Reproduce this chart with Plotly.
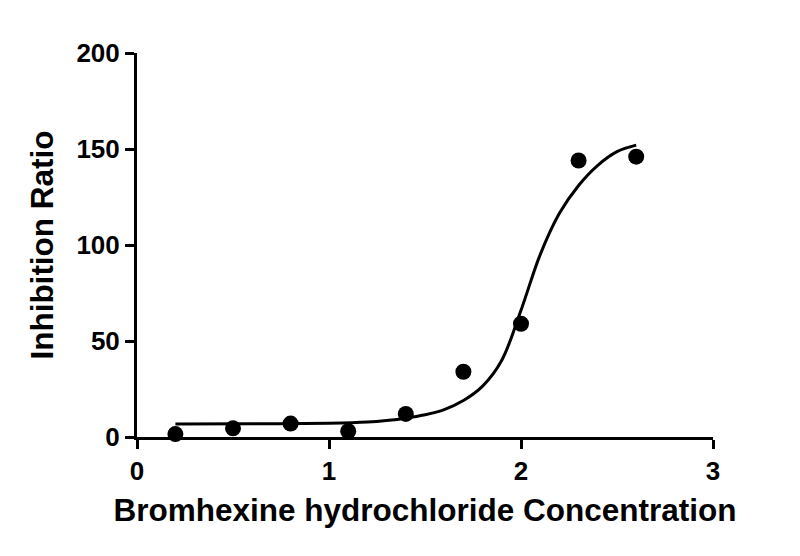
import plotly.graph_objects as go

# measured points
conc = [0.2, 0.5, 0.8, 1.1, 1.4, 1.7, 2.0, 2.3, 2.6]
ratio = [1.5, 4.5, 7, 3, 12, 34, 59, 144, 146]

# fitted curve
fit_x = [0.2, 0.6, 1.0, 1.2, 1.3, 1.4, 1.5, 1.6, 1.7, 1.8, 1.9, 2.0,
         2.1, 2.2, 2.3, 2.4, 2.5, 2.6]
fit_y = [6.8, 6.9, 7.2, 7.8, 8.6, 9.8, 11.6, 14.3, 19, 26.5, 40, 66,
         95, 116.5, 131, 141.5, 148.6, 152]

x_ticks = [0, 1, 2, 3]
y_ticks = [0, 50, 100, 150, 200]

font = "Liberation Sans, Arial, sans-serif"

fig = go.Figure()
fig.add_trace(
    go.Scatter(
        x=fit_x,
        y=fit_y,
        mode="lines",
        line=dict(color="black", width=3, shape="spline", smoothing=1.0),
        showlegend=False,
        cliponaxis=False,
    )
)
fig.add_trace(
    go.Scatter(
        x=conc,
        y=ratio,
        mode="markers",
        marker=dict(color="black", size=16),
        showlegend=False,
        cliponaxis=False,
    )
)
fig.update_xaxes(
    range=[0, 3],
    tickvals=x_ticks,
    ticks="outside",
    ticklen=9,
    tickwidth=3,
    tickcolor="black",
    showline=True,
    linewidth=3,
    linecolor="black",
    showgrid=False,
    zeroline=False,
    tickfont=dict(family=font, size=26, color="black", weight="bold"),
    title=dict(
        text="Bromhexine hydrochloride Concentration",
        font=dict(family=font, size=31.5, color="black", weight="bold"),
        standoff=14,
    ),
)
fig.update_yaxes(
    range=[0, 200],
    tickvals=y_ticks,
    ticks="outside",
    ticklen=9,
    tickwidth=3,
    tickcolor="black",
    showline=True,
    linewidth=3,
    linecolor="black",
    showgrid=False,
    zeroline=False,
    tickfont=dict(family=font, size=26, color="black", weight="bold"),
    title=dict(
        text="Inhibition Ratio",
        font=dict(family=font, size=31.5, color="black", weight="bold"),
        standoff=14,
    ),
)
fig.update_layout(
    width=800,
    height=556,
    margin=dict(l=129, r=95, t=45, b=127),
    plot_bgcolor="white",
    paper_bgcolor="white",
)
fig.write_html("out.html")
